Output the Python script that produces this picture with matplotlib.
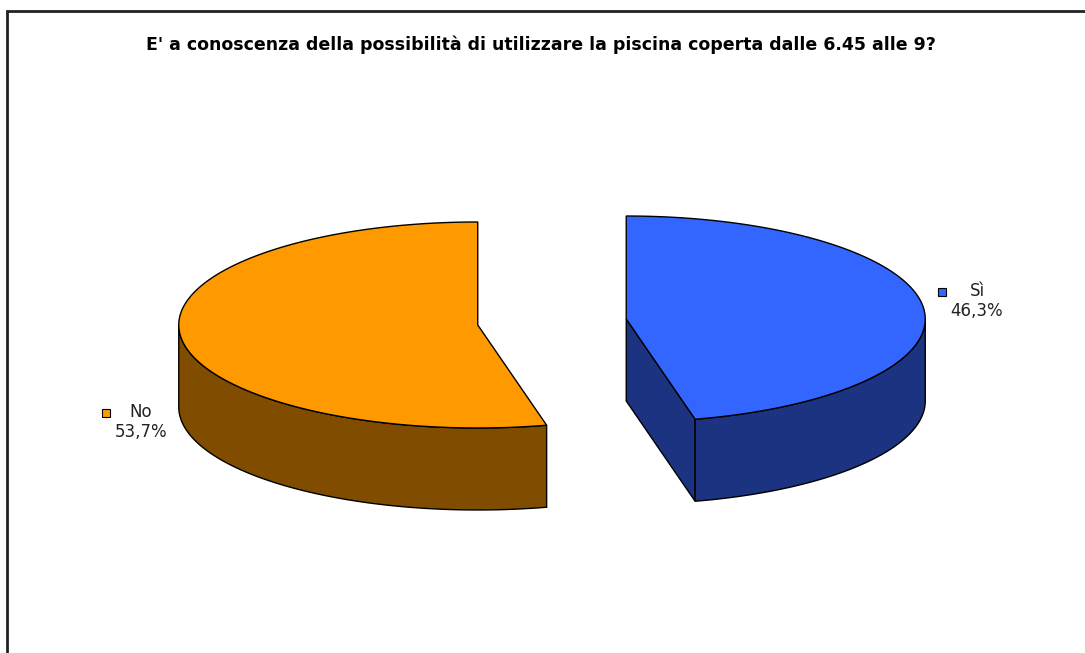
import numpy as np
import matplotlib
matplotlib.use('Agg')
import matplotlib.pyplot as plt
from matplotlib.patches import Polygon, Rectangle

title = "E' a conoscenza della possibilità di utilizzare la piscina coperta dalle 6.45 alle 9?"
labels = ['Sì', 'No']
values = [46.3, 53.7]
top_colors = ['#3366FF', '#FF9900']
side_colors = ['#1B3380', '#7F4C00']

# pie geometry in pixels (y grows downward)
cx, cy = 552, 322
rx, ry = 299, 103
depth = 82
explode = 0.25

W, H = 1085, 653
fig = plt.figure(figsize=(W/100, H/100), dpi=100)
ax = fig.add_axes([0, 0, 1, 1])
ax.set_xlim(0, W)
ax.set_ylim(H, 0)
ax.axis('off')


def pt(c, th, dz=0):
    # th in degrees clockwise from the back (12 o'clock)
    t = np.radians(th)
    return np.column_stack([c[0] + rx*np.sin(t), c[1] - ry*np.cos(t) + dz])


def arc(c, a, b, dz=0):
    n = max(int(abs(b - a)), 2)
    return pt(c, np.linspace(a, b, n), dz)


total = sum(values)
start = 0.0
for val, tc, sc in zip(values, top_colors, side_colors):
    span = 360.0*val/total
    a, b = start, start + span
    mid = np.radians((a + b)/2)
    c = (cx + explode*rx*np.sin(mid), cy - explode*ry*np.cos(mid))

    # radial faces seen by the viewer
    for th, vis in ((a, np.sin(np.radians(a)) < -1e-6), (b, np.sin(np.radians(b)) > 1e-6)):
        if vis:
            p = pt(c, np.array([th]))[0]
            face = [c, p, (p[0], p[1] + depth), (c[0], c[1] + depth)]
            ax.add_patch(Polygon(face, closed=True, fc=sc, ec='black', lw=1))

    # outer wall, front half only
    lo, hi = max(a, 90), min(b, 270)
    if hi > lo:
        upper = arc(c, lo, hi)
        lower = arc(c, hi, lo, depth)
        ax.add_patch(Polygon(np.vstack([upper, lower]), closed=True, fc=sc, ec='black', lw=1))

    # top face
    top = np.vstack([[c], arc(c, a, b)])
    ax.add_patch(Polygon(top, closed=True, fc=tc, ec='black', lw=1))
    start = b

# data labels with legend key
lab_pos = [(977, 292), (141, 413)]
for lab, val, tc, (x, y) in zip(labels, values, top_colors, lab_pos):
    txt = '%s\n%s%%' % (lab, ('%.1f' % val).replace('.', ','))
    ax.text(x, y - 10, txt, ha='center', va='top', fontsize=12, color='#222222',
            linespacing=1.15, family='DejaVu Sans')
    ax.add_patch(Rectangle((x - 39, y - 4), 8, 8, fc=tc, ec='black', lw=0.8))

ax.text(W/2 - 2, 45, title, ha='center', va='center', fontsize=12.5, fontweight='bold', family='DejaVu Sans')

# chart frame (only top and left visible)
ax.plot([7, 7, W + 5], [H + 5, 11, 11], color='#222222', lw=2, solid_joinstyle='miter')

fig.savefig('out.png', dpi=100)
